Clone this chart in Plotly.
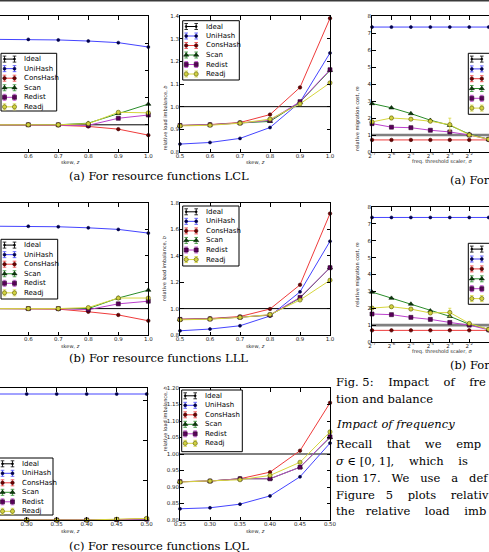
import math
import plotly.graph_objects as go

W, H = 489, 552


def px(x):
    return x / W


def py(y):
    return 1 - y / H


SERIES = ["Ideal", "UniHash", "ConsHash", "Scan", "Redist", "Readj"]

# ---------------- data ----------------
skew_hi = [0.5, 0.6, 0.7, 0.8, 0.9, 1.0]
skew_lo = [0.25, 0.30, 0.35, 0.40, 0.45, 0.50]
sigma_exp = [-7, -6, -5, -4, -3, -2, -1, 0]
sigma_ticks = [2.0 ** e for e in sigma_exp]
sigma_labels = ["2<sup>%d</sup>" % e for e in sigma_exp]

# (a) LCL : migration cost vs skew (left, clipped)
lcl_mig_ideal = [1.0, 1.0, 1.0, 1.0, 1.0, 1.0]
lcl_mig_unihash = [2.57, 2.57, 2.56, 2.54, 2.51, 2.43]
lcl_mig_conshash = [1.0, 1.0, 0.99, 0.97, 0.92, 0.81]
lcl_mig_scan = [1.0, 1.0, 1.0, 1.03, 1.21, 1.38]
lcl_mig_redist = [1.0, 1.0, 1.0, 0.99, 1.12, 1.18]
lcl_mig_readj = [1.0, 1.0, 1.0, 1.02, 1.23, 1.22]

# (a) LCL : load imbalance vs skew
lcl_bal_ideal = [1.0, 1.0, 1.0, 1.0, 1.0, 1.0]
lcl_bal_unihash = [0.835, 0.842, 0.86, 0.908, 1.02, 1.237]
lcl_bal_conshash = [0.917, 0.921, 0.93, 0.965, 1.085, 1.39]
lcl_bal_scan = [0.917, 0.92, 0.928, 0.935, 1.02, 1.16]
lcl_bal_redist = [0.917, 0.92, 0.928, 0.94, 1.022, 1.163]
lcl_bal_readj = [0.915, 0.918, 0.927, 0.945, 1.012, 1.105]

# (a) LCL : migration cost vs sigma (right, clipped)
lcl_sig_ideal = [1.0] * 8
lcl_sig_unihash = [7.35] * 8
lcl_sig_conshash = [0.71] * 8
lcl_sig_scan = [2.85, 2.6, 2.26, 1.87, 1.57, 1.05, 0.75, 0.72]
lcl_sig_redist = [1.67, 1.46, 1.43, 1.28, 1.18, 1.0, 0.75, 0.72]
lcl_sig_readj = [1.77, 2.0, 1.93, 1.81, 1.61, 1.0, 0.75, 0.72]
lcl_sig_readj_err = [0.05, 0.1, 0.05, 0.08, 0.38, 0.05, 0.0, 0.0]

# (b) LLL
lll_mig_ideal = [1.0] * 6
lll_mig_unihash = [2.56, 2.56, 2.55, 2.53, 2.50, 2.43]
lll_mig_conshash = [1.0, 1.0, 0.99, 0.94, 0.88, 0.77]
lll_mig_scan = [1.0, 1.0, 1.0, 1.0, 1.2, 1.35]
lll_mig_redist = [1.0, 1.0, 1.0, 0.98, 1.09, 1.14]
lll_mig_readj = [1.0, 1.0, 1.0, 1.02, 1.2, 1.2]

lll_bal_ideal = [1.0] * 6
lll_bal_unihash = [0.832, 0.845, 0.87, 0.944, 1.127, 1.51]
lll_bal_conshash = [0.92, 0.925, 0.94, 0.997, 1.18, 1.72]
lll_bal_scan = [0.918, 0.922, 0.935, 0.95, 1.08, 1.31]
lll_bal_redist = [0.918, 0.922, 0.935, 0.952, 1.085, 1.31]
lll_bal_readj = [0.915, 0.92, 0.933, 0.955, 1.065, 1.215]

lll_sig_ideal = [1.0] * 8
lll_sig_unihash = [7.38] * 8
lll_sig_conshash = [0.69] * 8
lll_sig_scan = [2.96, 2.6, 2.25, 1.85, 1.52, 1.05, 0.75, 0.72]
lll_sig_redist = [1.66, 1.62, 1.46, 1.34, 1.16, 1.0, 0.72, 0.70]
lll_sig_readj = [2.01, 2.09, 1.95, 1.72, 1.75, 1.1, 0.75, 0.72]
lll_sig_readj_err = [0.05, 0.08, 0.05, 0.08, 0.25, 0.05, 0.0, 0.0]

# (c) LQL
lql_mig_ideal = [1.0] * 6
lql_mig_unihash = [4.15] * 6
lql_mig_conshash = [1.0, 1.0, 1.0, 1.0, 1.01, 1.03]
lql_mig_scan = [1.0, 1.0, 1.0, 1.0, 1.01, 1.02]
lql_mig_redist = [1.0, 1.0, 1.0, 1.0, 1.01, 1.02]
lql_mig_readj = [1.0, 1.0, 1.0, 1.0, 1.02, 1.04]

lql_bal_ideal = [1.0] * 6
lql_bal_unihash = [0.834, 0.837, 0.848, 0.873, 0.931, 1.033]
lql_bal_conshash = [0.916, 0.918, 0.925, 0.945, 1.01, 1.155]
lql_bal_scan = [0.916, 0.918, 0.925, 0.925, 0.96, 1.05]
lql_bal_redist = [0.916, 0.918, 0.925, 0.925, 0.96, 1.052]
lql_bal_readj = [0.915, 0.918, 0.922, 0.935, 0.975, 1.067]

# ---------------- styles ----------------
STYLE = {
    "Ideal": dict(lc="#000000", mc="#000000", ml="#000000", sym="circle", ms=2),
    "UniHash": dict(lc="#4444ff", mc="#00004a", ml="#00004a", sym="circle", ms=3),
    "ConsHash": dict(lc="#ee3b3b", mc="#6e0000", ml="#3a0000", sym="circle", ms=3.5),
    "Scan": dict(lc="#2a8c2a", mc="#0b3d0b", ml="#001a00", sym="triangle-up", ms=4.5),
    "Redist": dict(lc="#bb40cc", mc="#5a005a", ml="#2a002a", sym="square", ms=4),
    "Readj": dict(lc="#d6d63c", mc="#d0d040", ml="#5a5a00", sym="circle", ms=4.2),
}

fig = go.Figure()

TICKFONT = dict(family="DejaVu Sans", size=5.5, color="#222222")
BASE_AX = dict(showline=True, linecolor="black", linewidth=1, ticks="inside",
               ticklen=3.5, tickwidth=0.8, tickcolor="black", showgrid=False,
               zeroline=False, tickfont=TICKFONT, automargin=False,
               fixedrange=True)

panels = [
    dict(i=1, kind="left", box=(0, 148.3, 16, 152), x=skew_hi,
         xr=(0.5 + 1.7 / 300, 1.0), xdt=0.1, xfmt=".1f", yr=(0.5, 3.0), ydt=0.5,
         ys=[lcl_mig_ideal, lcl_mig_unihash, lcl_mig_conshash, lcl_mig_scan,
             lcl_mig_redist, lcl_mig_readj], err=None),
    dict(i=2, kind="mid", box=(180, 330, 16, 152), x=skew_hi,
         xr=(0.5, 1.0), xdt=0.1, xfmt=".1f", yr=(0.8, 1.4), ydt=0.1, yfmt=".1f",
         ys=[lcl_bal_ideal, lcl_bal_unihash, lcl_bal_conshash, lcl_bal_scan,
             lcl_bal_redist, lcl_bal_readj], err=None),
    dict(i=3, kind="right", box=(372, 489, 16, 152), x=sigma_ticks,
         yr=(0, 8), ydt=1, yfmt="d",
         ys=[lcl_sig_ideal, lcl_sig_unihash, lcl_sig_conshash, lcl_sig_scan,
             lcl_sig_redist, lcl_sig_readj], err=lcl_sig_readj_err),
    dict(i=4, kind="left", box=(0, 148.3, 203, 335), x=skew_hi,
         xr=(0.5 + 1.7 / 300, 1.0), xdt=0.1, xfmt=".1f", yr=(0.5, 3.0), ydt=0.5,
         ys=[lll_mig_ideal, lll_mig_unihash, lll_mig_conshash, lll_mig_scan,
             lll_mig_redist, lll_mig_readj], err=None),
    dict(i=5, kind="mid", box=(180, 330, 203, 335), x=skew_hi,
         xr=(0.5, 1.0), xdt=0.1, xfmt=".1f", yr=(0.8, 1.8), ydt=0.2, yfmt=".1f",
         ys=[lll_bal_ideal, lll_bal_unihash, lll_bal_conshash, lll_bal_scan,
             lll_bal_redist, lll_bal_readj], err=None),
    dict(i=6, kind="right", box=(372, 489, 207, 342), x=sigma_ticks,
         yr=(0, 8), ydt=1, yfmt="d",
         ys=[lll_sig_ideal, lll_sig_unihash, lll_sig_conshash, lll_sig_scan,
             lll_sig_redist, lll_sig_readj], err=lll_sig_readj_err),
    dict(i=7, kind="left", box=(0, 146.7, 388, 520), x=skew_lo,
         xr=(0.25 + 3.3 / 600, 0.5), xdt=0.05, xfmt=".2f", yr=(1.0, 4.3), ydt=1,
         ys=[lql_mig_ideal, lql_mig_unihash, lql_mig_conshash, lql_mig_scan,
             lql_mig_redist, lql_mig_readj], err=None),
    dict(i=8, kind="mid", box=(180, 330, 388, 520), x=skew_lo,
         xr=(0.25, 0.5), xdt=0.05, xfmt=".2f", yr=(0.8, 1.2), ydt=0.05, yfmt=".2f",
         ys=[lql_bal_ideal, lql_bal_unihash, lql_bal_conshash, lql_bal_scan,
             lql_bal_redist, lql_bal_readj], err=None),
]

layout_axes = {}
for p in panels:
    i = p["i"]
    x0, x1, yt, yb = p["box"]
    xa = dict(BASE_AX, domain=[px(x0), px(x1)], anchor="y%d" % i, mirror="ticks",
              ticklabelstandoff=-2)
    ya = dict(BASE_AX, domain=[py(yb), py(yt)], anchor="x%d" % i,
              range=list(p["yr"]), tick0=p["yr"][0], dtick=p["ydt"],
              ticklabelstandoff=-1)
    if p["kind"] == "right":
        xa.update(type="log", tickvals=sigma_ticks, ticktext=sigma_labels,
                  range=[math.log10(2 ** -7), math.log10(2 ** -0.985)])
        ya.update(mirror=False, tickformat=p["yfmt"])
    else:
        xa.update(range=list(p["xr"]), tick0=p["x"][0], dtick=p["xdt"],
                  tickformat=p["xfmt"])
        if p["kind"] == "left":
            ya.update(side="right", mirror=False, showticklabels=False)
        else:
            ya.update(mirror="ticks", tickformat=p["yfmt"])
    layout_axes["xaxis%d" % i] = xa
    layout_axes["yaxis%d" % i] = ya

    for name, vals in zip(SERIES, p["ys"]):
        st = STYLE[name]
        if p["kind"] == "right" and name == "Ideal":
            fig.add_trace(go.Scatter(x=p["x"], y=vals, mode="lines",
                                     line=dict(color="#808080", width=2.6),
                                     xaxis="x%d" % i, yaxis="y%d" % i,
                                     showlegend=False, hoverinfo="skip"))
            continue
        mode = "lines" if name == "Ideal" else "lines+markers"
        kw = {}
        if name == "Readj" and p["err"] is not None:
            kw["error_y"] = dict(type="data", array=p["err"], visible=True,
                                 color=st["lc"], thickness=0.8, width=1.5)
        fig.add_trace(go.Scatter(
            x=p["x"], y=vals, mode=mode,
            line=dict(color=st["lc"], width=1),
            marker=dict(symbol=st["sym"], size=st["ms"], color=st["mc"],
                        line=dict(color=st["ml"], width=0.6)),
            xaxis="x%d" % i, yaxis="y%d" % i, showlegend=False,
            cliponaxis=False, hoverinfo="skip", **kw))

# ---------------- legends (drawn on a full-page pixel overlay axis) ----------------
layout_axes["xaxis9"] = dict(domain=[0, 1], range=[0, W], visible=False,
                             anchor="y9", fixedrange=True)
layout_axes["yaxis9"] = dict(domain=[0, 1], range=[H, 0], visible=False,
                             anchor="x9", fixedrange=True)

legend_boxes = [
    # left x, top y, width, height, entry spacing
    (1, 53.3, 55.7, 57.7, 9.55),
    (182.7, 20.7, 56.6, 59.3, 9.5),
    (468.3, 53.3, 40, 61, 9.8),
    (1, 239.3, 56.7, 59.7, 9.55),
    (182.7, 206, 56.3, 60, 9.55),
    (468.3, 243.3, 40, 61, 9.9),
    (-1, 458, 54, 57, 9.5),
    (181.7, 390, 60.6, 61.7, 9.5),
]

annotations = []
for (lx, ly, lw, lh, sp) in legend_boxes:
    fig.add_trace(go.Scatter(
        x=[lx, lx + lw, lx + lw, lx, lx], y=[ly, ly, ly + lh, ly + lh, ly],
        mode="lines", fill="toself", fillcolor="white",
        line=dict(color="black", width=1), xaxis="x9", yaxis="y9",
        showlegend=False, hoverinfo="skip"))
    for k, name in enumerate(SERIES):
        st = STYLE[name]
        yy = ly + 5.8 + k * sp
        fig.add_trace(go.Scatter(
            x=[lx + 3.5, lx + 13.5], y=[yy, yy], mode="lines+markers",
            line=dict(color=st["lc"], width=1),
            marker=dict(symbol=st["sym"], size=st["ms"], color=st["mc"],
                        line=dict(color=st["ml"], width=0.6)),
            error_y=dict(type="constant", value=3, color=st["lc"],
                         thickness=0.8, width=1.8),
            xaxis="x9", yaxis="y9", showlegend=False, hoverinfo="skip",
            cliponaxis=True))
        annotations.append(dict(
            x=px(lx + 21), y=py(yy), xref="paper", yref="paper",
            text=name, showarrow=False, xanchor="left", yanchor="middle",
            font=dict(family="DejaVu Sans", size=7, color="black")))

# ---------------- axis titles ----------------
AXFONT = dict(family="DejaVu Sans", size=5, color="#222222")
for p in panels:
    x0, x1, yt, yb = p["box"]
    if p["kind"] == "right":
        annotations.append(dict(x=px(372 + 70), y=py(yb + 10), xref="paper",
                                yref="paper", text="freq. threshold scaler, <i>σ</i>",
                                showarrow=False, xanchor="center", yanchor="middle",
                                font=AXFONT))
        annotations.append(dict(x=px(363), y=py((yt + yb) / 2), xref="paper",
                                yref="paper", text="relative migration cost, <i>m</i>",
                                textangle=-90, showarrow=False, font=AXFONT))
    else:
        annotations.append(dict(x=px((x0 + x1) / 2 if p["kind"] == "mid" else 70),
                                y=py(yb + 10.5), xref="paper", yref="paper",
                                text="skew, <i>z</i>", showarrow=False,
                                xanchor="center", yanchor="middle", font=AXFONT))
        if p["kind"] == "mid":
            annotations.append(dict(x=px(164), y=py((yt + yb) / 2), xref="paper",
                                    yref="paper",
                                    text="relative load imbalance, <i>b</i>",
                                    textangle=-90, showarrow=False, font=AXFONT))

# ---------------- captions & body text ----------------
SERIF = "DejaVu Serif"
captions = [
    ("(a) For resource functions LCL", 67, 176),
    ("(b) For resource functions LLL", 67, 358),
    ("(c) For resource functions LQL", 67, 546),
    ("(a) For", 448, 180),
    ("(b) For", 448, 365),
]
for t, x, y in captions:
    annotations.append(dict(x=px(x), y=py(y), xref="paper", yref="paper", text=t,
                            showarrow=False, xanchor="left", yanchor="middle",
                            font=dict(family=SERIF, size=11.5, color="black")))

body = [
    ("Fig. 5:    Impact    of    fre", 382),
    ("tion and balance", 399),
    ("<i>Impact of frequency</i>", 424),
    ("Recall    that    we    emp", 444),
    ("<i>σ</i> ∈ [0, 1],    which    is", 461),
    ("tion 17.   We   use   a   def", 478),
    ("Figure   5    plots    relativ", 495),
    ("the   relative    load    imb", 511),
]
for t, y in body:
    annotations.append(dict(x=px(334), y=py(y), xref="paper", yref="paper", text=t,
                            showarrow=False, xanchor="left", yanchor="middle",
                            font=dict(family=SERIF, size=11.5, color="black")))

fig.update_layout(
    width=W, height=H, margin=dict(l=0, r=0, t=0, b=0, pad=0),
    paper_bgcolor="white", plot_bgcolor="rgba(0,0,0,0)",
    showlegend=False, annotations=annotations,
    shapes=[dict(type="rect", xref="paper", yref="paper", x0=0, x1=1,
                 y0=py(1.6), y1=1, fillcolor="#3a3a3a", line=dict(width=0))],
    **layout_axes)

fig.write_html("out.html")
